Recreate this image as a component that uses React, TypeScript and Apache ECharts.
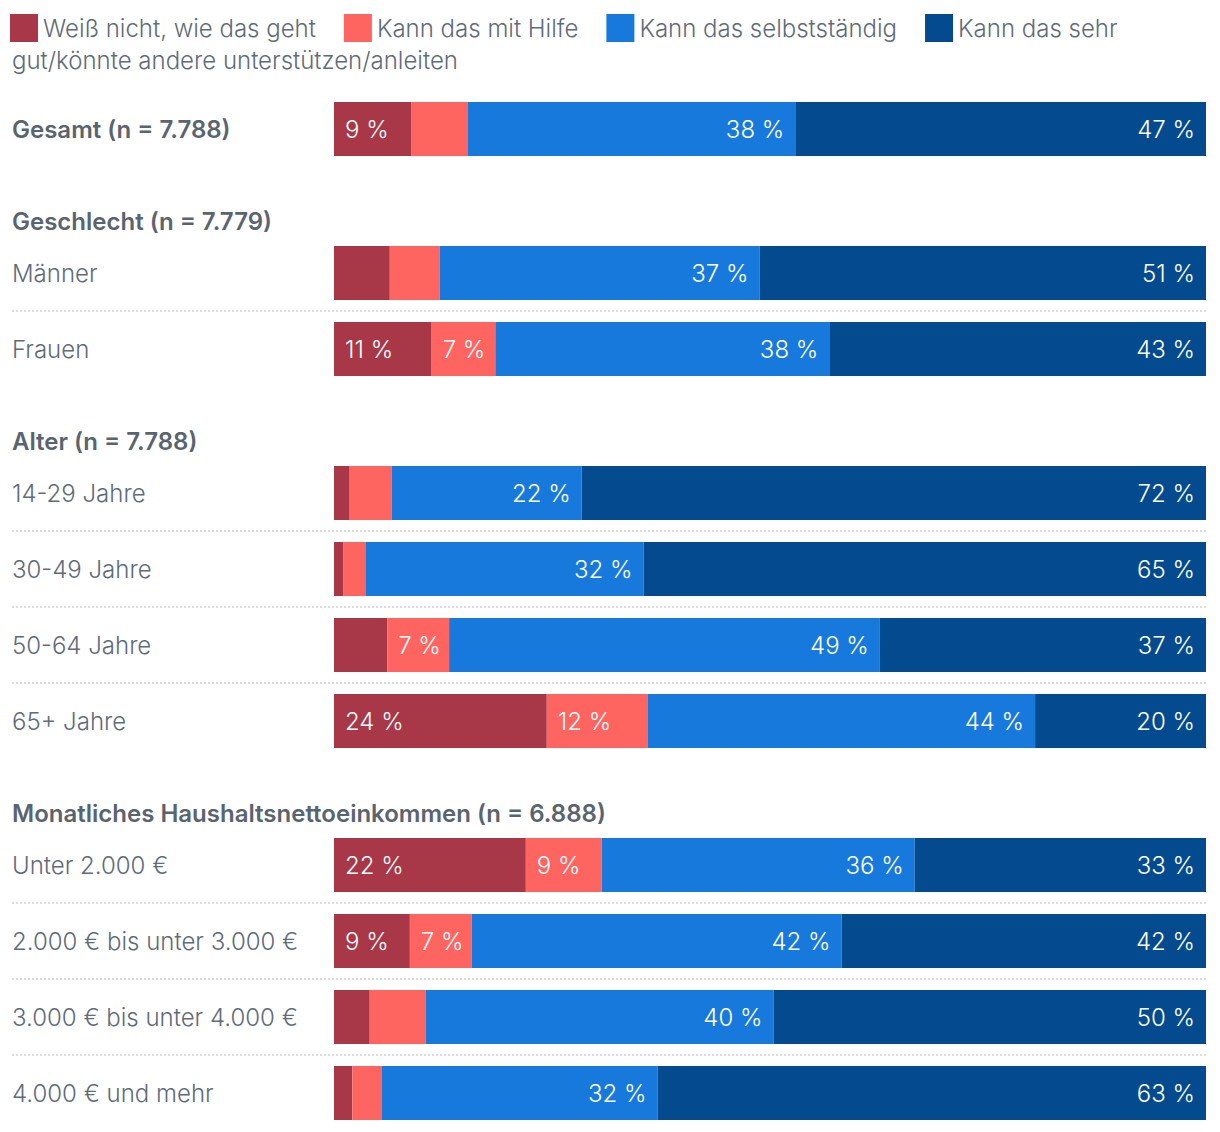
import React, { useEffect, useRef } from "react";
import * as echarts from "echarts";

// Legend / series names
const seriesNames = [
  "Weiß nicht, wie das geht",
  "Kann das mit Hilfe",
  "Kann das selbstständig",
  "Kann das sehr gut/könnte andere unterstützen/anleiten",
];
const seriesColors = ["#a83747", "#fe6460", "#1779dc", "#044a8f"];

// Group headers
const groupHeaders = ["", "Geschlecht (n = 7.779)", "Alter (n = 7.788)", "Monatliches Haushaltsnettoeinkommen (n = 6.888)"];

// Categories per group
const gesamtCats = ["Gesamt (n = 7.788)"];
const geschlechtCats = ["Männer", "Frauen"];
const alterCats = ["14-29 Jahre", "30-49 Jahre", "50-64 Jahre", "65+ Jahre"];
const einkommenCats = ["Unter 2.000 €", "2.000 € bis unter 3.000 €", "3.000 € bis unter 4.000 €", "4.000 € und mehr"];

// Values (%), rows in order: Gesamt, Männer, Frauen, 14-29, 30-49, 50-64, 65+, <2000, 2000-3000, 3000-4000, 4000+
const weissNicht = [8.9, 6.4, 11.2, 1.8, 1.1, 6.1, 24.4, 22.0, 8.7, 4.1, 2.1];
const mitHilfe = [6.4, 5.7, 7.3, 4.8, 2.5, 7.1, 11.6, 8.7, 7.1, 6.4, 3.4];
const selbststaendig = [37.6, 36.7, 38.3, 21.8, 31.9, 49.4, 44.4, 35.9, 42.4, 39.9, 31.6];
const sehrGut = [47.1, 51.2, 43.2, 71.6, 64.5, 37.4, 19.6, 33.4, 41.8, 49.6, 62.9];

const FONT = "Inter, 'Noto Sans', sans-serif";
const TEXT_COLOR = "#5f6b79";
const HEAD_COLOR = "#59646f";

export default function App() {
  const ref = useRef<HTMLDivElement>(null);

  useEffect(() => {
    document.body.style.margin = "0";
    if (!ref.current) return;
    const chart = echarts.init(ref.current, undefined, { renderer: "svg" });

    const groups = [gesamtCats, geschlechtCats, alterCats, einkommenCats];
    const groupTops = [91, 235, 455, 827];
    const rowH = 76;
    const barW = 54;
    const left = 334;
    const right = 14;
    const allSeries = [weissNicht, mitHilfe, selbststaendig, sehrGut];

    const grids: any[] = [];
    const xAxes: any[] = [];
    const yAxes: any[] = [];
    const series: any[] = [];
    const graphics: any[] = [];

    let offset = 0;
    groups.forEach((cats, gi) => {
      const top = groupTops[gi];
      grids.push({
        left,
        right,
        top,
        height: cats.length * rowH,
        containLabel: false,
        outerBoundsMode: "none",
      });
      xAxes.push({
        gridIndex: gi,
        type: "value",
        min: 0,
        max: 100,
        show: false,
      });
      yAxes.push({
        gridIndex: gi,
        type: "category",
        inverse: true,
        data: cats.map((c) =>
          gi === 0
            ? {
                value: c,
                textStyle: {
                  fontWeight: 600,
                  color: HEAD_COLOR,
                  align: "left",
                  fontSize: 24,
                  fontFamily: FONT,
                },
              }
            : c
        ),
        axisLine: { show: false },
        axisTick: { show: false },
        splitLine: { show: false },
        axisLabel: {
          align: "left",
          margin: left - 12,
          fontSize: 24,
          fontFamily: FONT,
          fontWeight: 300,
          color: TEXT_COLOR,
        },
      });
      allSeries.forEach((vals, si) => {
        series.push({
          type: "bar",
          name: seriesNames[si],
          xAxisIndex: gi,
          yAxisIndex: gi,
          stack: "g" + gi,
          barWidth: barW,
          itemStyle: { color: seriesColors[si] },
          data: vals.slice(offset, offset + cats.length),
          label: {
            show: true,
            position: si < 2 ? "insideLeft" : "insideRight",
            distance: 11,
            color: "#ffffff",
            fontSize: 24,
            fontFamily: FONT,
            fontWeight: 300,
            formatter: (p: any) => {
              const r = Math.round(p.value);
              return r >= 7 ? `${r} %` : "";
            },
          },
        });
      });
      // dotted separators between rows
      for (let i = 1; i < cats.length; i++) {
        const y = top + i * rowH;
        graphics.push({
          type: "line",
          shape: { x1: 12, y1: y, x2: 1208, y2: y },
          style: { stroke: "#dcdcdc", lineWidth: 2, lineDash: [2, 2] },
          silent: true,
        });
      }
      if (groupHeaders[gi]) {
        graphics.push({
          type: "text",
          x: 12,
          y: top - 14,
          style: {
            text: groupHeaders[gi],
            fontSize: 24,
            fontFamily: FONT,
            fontWeight: 600,
            fill: HEAD_COLOR,
            verticalAlign: "middle",
          },
        });
      }
      offset += cats.length;
    });

    // continuation of the wrapped 4th legend label
    graphics.push({
      type: "text",
      x: 12,
      y: 60,
      style: {
        text: "gut/könnte andere unterstützen/anleiten",
        fontSize: 24,
        fontFamily: FONT,
        fontWeight: 300,
        fill: TEXT_COLOR,
        verticalAlign: "middle",
      },
    });

    chart.setOption({
      animation: false,
      backgroundColor: "#ffffff",
      legend: {
        left: 10,
        top: 14,
        padding: 0,
        itemWidth: 28,
        itemHeight: 28,
        itemGap: 28,
        icon: "rect",
        selectedMode: false,
        data: seriesNames,
        formatter: (name: string) =>
          name.startsWith("Kann das sehr") ? "Kann das sehr" : name,
        textStyle: {
          fontSize: 24,
          fontFamily: FONT,
          fontWeight: 300,
          color: TEXT_COLOR,
        },
      },
      grid: grids,
      xAxis: xAxes,
      yAxis: yAxes,
      series,
      graphic: graphics,
    });

    return () => chart.dispose();
  }, []);

  return <div ref={ref} style={{ width: 1220, height: 1132 }} />;
}
